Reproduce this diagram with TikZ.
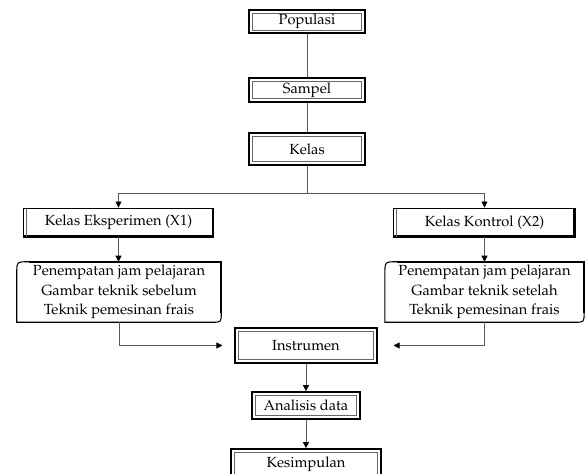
\documentclass[tikz,border=0pt]{standalone}
\usepackage[T1]{fontenc}
\usepackage{mathpazo}
\usetikzlibrary{arrows.meta}

\tikzset{
  txt/.style={font=\fontsize{11}{14.5}\selectfont, align=center, inner sep=0pt},
  % kotak bergaris ganda (tebal di luar, tipis di dalam)
  framebox/.style={txt, draw, line width=1.3pt,
    path picture={\draw[line width=.5pt, black!60]
      ([shift={(2.4pt,2.4pt)}]path picture bounding box.south west) rectangle
      ([shift={(-2.4pt,-2.4pt)}]path picture bounding box.north east);}},
  % kotak kelas, tepi kanan dan bawah lebih tebal
  classbox/.style={txt, draw, line width=.7pt,
    path picture={\draw[line width=2.6pt]
      (path picture bounding box.north east) -- (path picture bounding box.south east)
      -- (path picture bounding box.south west);
      \draw[line width=.5pt, black!60]
      ([xshift=2.2pt]path picture bounding box.south west) --
      ([xshift=2.2pt]path picture bounding box.north west);}},
  link/.style={line width=.6pt, black!65},
  arr/.style={link, -{Triangle[length=4.5pt, width=4.5pt, color=black]}}
}

% kotak sudut membulat (kiri atas dan kanan bawah)
\newcommand\softbox[1]{%
  \draw[line width=.8pt] (#1.south west) -- ([xshift=-7pt]#1.south east)
    .. controls (#1.south east) .. ([yshift=7pt]#1.south east) -- (#1.north east)
    -- ([xshift=9pt]#1.north west) .. controls (#1.north west) .. ([yshift=-9pt]#1.north west)
    -- cycle;
  \draw[line width=1.8pt] ([xshift=9pt]#1.north west) -- (#1.north east)
    -- ([yshift=7pt]#1.south east);}

\begin{document}
\begin{tikzpicture}[x=0.75pt, y=-0.75pt]
    \useasboundingbox (0,0) rectangle (587,474);

    % Kolom tengah
    \node[framebox, minimum width=87pt, minimum height=17.5pt] (pop) at (307,21.5) {Populasi};
    \node[framebox, minimum width=87pt, minimum height=18pt] (sam) at (307,90) {Sampel};
    \node[framebox, minimum width=87pt, minimum height=24pt] (kel) at (307,149) {Kelas};

    % Dua kelas
    \node[classbox, minimum width=143pt, minimum height=21.75pt] (eks) at (118.5,222.5) {Kelas Eksperimen (X1)};
    \node[classbox, minimum width=136pt, minimum height=21.75pt] (kon) at (484.5,222.5) {Kelas Kontrol (X2)};

    % Perlakuan
    \node[txt, minimum width=153pt, minimum height=45pt] (peA) at (119,292)
      {Penempatan jam pelajaran\\Gambar teknik sebelum\\Teknik pemesinan frais};
    \node[txt, minimum width=149pt, minimum height=45pt] (peB) at (484.5,292)
      {Penempatan jam pelajaran\\Gambar teknik setelah\\Teknik pemesinan frais};
    \softbox{peA}
    \softbox{peB}

    % Bagian bawah
    \node[framebox, minimum width=106pt, minimum height=26pt] (ins) at (306,345.5) {Instrumen};
    \node[framebox, minimum width=81pt, minimum height=20.25pt] (ana) at (306,405.5) {Analisis data};
    \node[framebox, minimum width=112pt, minimum height=22.5pt] (kes) at (306,464) {Kesimpulan};

    % Titik bantu
    \coordinate (fork) at (307,193);
    \coordinate (insL) at ([xshift=-9pt]ins.west);
    \coordinate (insR) at ([xshift=12pt]ins.east);

    % Garis penghubung
    \draw[link] (pop) -- (sam);
    \draw[link] (sam) -- (kel);
    \draw[link] (kel) -- (fork);
    \draw[arr] (fork) -| (eks.north);
    \draw[arr] (fork) -| (kon.north);
    \draw[arr] (eks) -- (eks.south |- peA.north);
    \draw[arr] (kon) -- (kon.south |- peB.north);
    \draw[arr] (peA.south) |- (insL);
    \draw[arr] (peB.south) |- (insR);
    \draw[arr] (ins) -- (ana);
    \draw[arr] (ana) -- (kes);
\end{tikzpicture}
\end{document}
